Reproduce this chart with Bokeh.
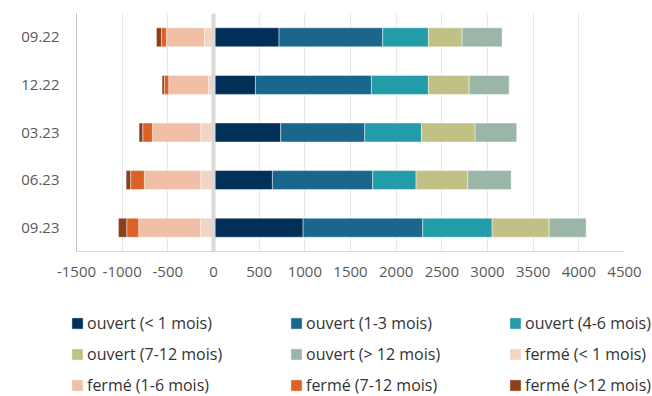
from bokeh.plotting import figure
from bokeh.layouts import column
from bokeh.models import (ColumnDataSource, Legend, LegendItem, Span,
                          FactorRange, Range1d, FixedTicker)
from bokeh.embed import file_html
from bokeh.resources import INLINE

# ---- data ----
periods = ["09.22", "12.22", "03.23", "06.23", "09.23"]
ouvert_lt1 = [718, 459, 736, 645, 981]
ouvert_1_3 = [1135, 1270, 920, 1098, 1310]
ouvert_4_6 = [500, 624, 621, 475, 760]
ouvert_7_12 = [369, 446, 587, 566, 624]
ouvert_gt12 = [438, 438, 456, 475, 405]
ferme_lt1 = [100, 56, 140, 140, 143]
ferme_1_6 = [416, 434, 529, 617, 676]
ferme_7_12 = [54, 48, 106, 150, 131]
ferme_gt12 = [55, 25, 40, 50, 91]

open_labels = ["ouvert (< 1 mois)", "ouvert (1-3 mois)", "ouvert (4-6 mois)",
               "ouvert (7-12 mois)", "ouvert (> 12 mois)"]
closed_labels = ["fermé (< 1 mois)", "fermé (1-6 mois)", "fermé (7-12 mois)",
                 "fermé (>12 mois)"]
x_ticks = [-1500, -1000, -500, 0, 500, 1000, 1500, 2000, 2500, 3000, 3500, 4000, 4500]

open_colors = ["#003057", "#1B668D", "#229CA9", "#C0C185", "#9BB5A7"]
closed_colors = ["#F4D4C4", "#F1BEA6", "#DC6127", "#8C3F1A"]

src = ColumnDataSource(dict(
    period=periods,
    o1=ouvert_lt1, o2=ouvert_1_3, o3=ouvert_4_6, o4=ouvert_7_12, o5=ouvert_gt12,
    c1=[-v for v in ferme_lt1], c2=[-v for v in ferme_1_6],
    c3=[-v for v in ferme_7_12], c4=[-v for v in ferme_gt12],
))
open_keys = ["o1", "o2", "o3", "o4", "o5"]
closed_keys = ["c1", "c2", "c3", "c4"]

p = figure(width=652, height=300, output_backend="svg", toolbar_location=None,
           x_range=Range1d(x_ticks[0], x_ticks[-1]),
           y_range=FactorRange(factors=periods[::-1]),
           min_border_left=76, min_border_right=28,
           min_border_top=13, min_border_bottom=49)
p.outline_line_color = None

bar_style = dict(y="period", height=0.4, line_color="white", line_alpha=0.45,
                 line_width=1, source=src)
p.hbar_stack(open_keys, fill_color=open_colors, **bar_style)
p.hbar_stack(closed_keys, fill_color=closed_colors, **bar_style)

p.add_layout(Span(location=0, dimension="height", line_color="#D9D9D9", line_width=4))

p.xaxis.ticker = FixedTicker(ticks=x_ticks)
p.xaxis.major_label_overrides = {t: str(t) for t in x_ticks}
p.xgrid.ticker = FixedTicker(ticks=x_ticks)
p.xgrid.grid_line_color = "#E8E8E8"
p.ygrid.grid_line_color = None

for ax in (p.xaxis[0], p.yaxis[0]):
    ax.major_tick_line_color = None
    ax.minor_tick_line_color = None
    ax.major_tick_out = 0
    ax.major_label_text_font = "Open Sans"
    ax.major_label_text_font_size = "15px"
    ax.major_label_text_color = "#595959"
p.xaxis.axis_line_color = "#D9D9D9"
p.yaxis.axis_line_color = "#C4C4C4"
p.xaxis.major_label_standoff = 15
p.yaxis.major_label_standoff = 17

# ---- legend panel: same series, in a view where no bar is in range ----
lf = figure(width=652, height=96, output_backend="svg", toolbar_location=None,
            x_range=Range1d(x_ticks[0], x_ticks[-1]),
            y_range=FactorRange(factors=["légende"]),
            x_axis_location=None, y_axis_location=None, min_border=0)
lf.outline_line_color = None
lf.grid.visible = False
lo = lf.hbar_stack(open_keys, fill_color=open_colors, **bar_style)
lc = lf.hbar_stack(closed_keys, fill_color=closed_colors, **bar_style)

items = [LegendItem(label=l, renderers=[r]) for l, r in zip(open_labels + closed_labels, lo + lc)]
legend = Legend(items=items, location=(70, 0), orientation="horizontal", ncols=3,
                padding=0, margin=0, spacing=9,
                glyph_width=14, glyph_height=14, label_standoff=3,
                label_width=193, label_height=18,
                label_text_font="Open Sans", label_text_font_size="16px",
                label_text_color="#333333",
                background_fill_alpha=0, border_line_color=None)
lf.add_layout(legend)

layout = column(p, column(lf, spacing=0), spacing=0)
open("out.html", "w").write(file_html(layout, INLINE))
